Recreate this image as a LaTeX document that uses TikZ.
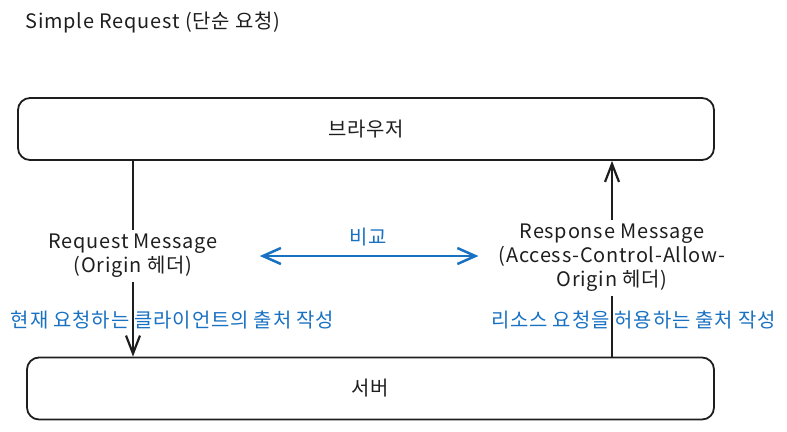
\documentclass[tikz,border=0pt]{standalone}
\usepackage{fontspec}
\setmainfont{Noto Sans CJK KR}[LetterSpace=4]
\usetikzlibrary{arrows.meta}
\definecolor{ink}{HTML}{1E1E1E}
\definecolor{cmpblue}{HTML}{1971C2}

\begin{document}
\begin{tikzpicture}[x=1bp,y=-1bp,font=\fontsize{20}{24}\selectfont,text=ink,
  box/.style={draw=ink,line width=1.8bp,rounded corners=12bp,minimum height=62bp},
  msg/.style={align=center,inner sep=4bp},
  note/.style={text=cmpblue,inner sep=1bp},
  flow/.style={draw=ink,line width=2.3bp,-{Straight Barb[length=18bp,width=14bp,line width=2.2bp]}},
  cmp/.style={draw=cmpblue,line width=2.8bp,{Straight Barb[length=18bp,width=16bp,line width=2.5bp]}-{Straight Barb[length=18bp,width=16bp,line width=2.5bp]}}]
\useasboundingbox (0,0) rectangle (787,431);
\node[anchor=west] (T) at (22,22) {Simple Request (단순 요청)};
\node[box,minimum width=696bp] (A) at (366,129) {브라우저};
\node[box,minimum width=687bp] (B) at (370.5,388.5) {서버};
\node[msg] (C) at (133,256) {Request Message\\(Origin 헤더)};
\node[msg] (D) at (612,258) {Response Message\\(Access-Control-Allow-\\Origin 헤더)};
\node[note] (E) at (172.5,320) {현재 요청하는 클라이언트의 출처 작성};
\node[note] (F) at (633.5,320) {리소스 요청을 허용하는 출처 작성};
\node[note] (G) at (368,237) {비교};


\draw[flow,-] (A.south -| C) -- (C.north);
\draw[flow] (C.south) -- (C.south |- B.north);
\draw[flow,-] (B.north -| D) -- (D.south);
\draw[flow] (D.north) -- (D.north |- A.south);
\draw[cmp,shorten <=38bp,shorten >=16bp] (C.east) -- (C.east -| D.west);

\end{tikzpicture}
\end{document}
